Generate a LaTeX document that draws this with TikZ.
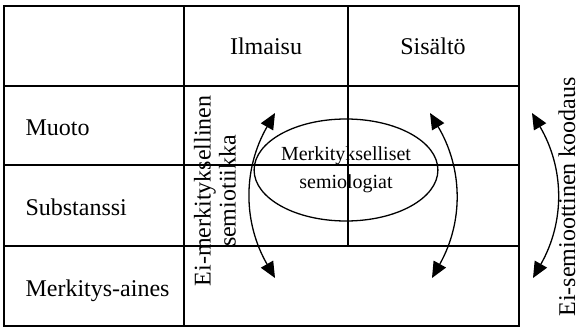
\documentclass[tikz,border=0pt]{standalone}
\usepackage{fontspec}
\setmainfont{Liberation Serif}
\usetikzlibrary{arrows.meta,shapes.geometric}
\begin{document}
\begin{tikzpicture}[x=1pt, y=1pt,
		lbl/.style={font=\fontsize{24}{25}\selectfont},
		arr/.style={<->, >={Triangle[length=16pt,width=14pt]}, line width=1.3pt}]
		\useasboundingbox (0,0) rectangle (580,327);
		\draw[line width=1.1pt] (4,1) rectangle (519,321);
		\draw[line width=1.1pt] (4,241) -- (519,241);
		\draw[line width=1.1pt] (4,162) -- (519,162);
		\draw[line width=1.1pt] (4,81) -- (519,81);
		\draw[line width=1.1pt] (184,1) -- (184,321);
		\draw[line width=1.1pt] (348,81) -- (348,321);
		\draw (266,272) node[lbl, anchor=base] (I) {Ilmaisu};
		\draw (433,272) node[lbl, anchor=base] (S) {Sisältö};
		\draw (22,191) node[lbl, anchor=base west] (M) {Muoto};
		\draw (22,112) node[lbl, anchor=base west] (Su) {Substanssi};
		\draw (22,31) node[lbl, anchor=base west] (MA) {Merkitys-aines};
		\draw (346,157) node[draw, ellipse, line width=1.3pt, inner sep=0pt,
			minimum width=144pt, minimum height=102pt, align=center,
			font=\fontsize{20}{28}\selectfont] (E) {Merkitykselliset\\semiologiat};
		\draw (215,136) node[lbl, rotate=90, align=center] (EM) {Ei-merkityksellinen\\semiotiikka};
		\draw (567,130) node[lbl, rotate=90, inner sep=0pt] (ES) {Ei-semioottinen koodaus};
		\coordinate (A1) at (275,49);
		\coordinate (A2) at (275,214);
		\coordinate (B1) at (432,49);
		\coordinate (B2) at (430,214);
		\coordinate (C1) at (533,49);
		\coordinate (C2) at (532,214);
		\draw[arr] (A1) to[bend left=30] (A2);
		\draw[arr] (B1) to[bend right=30] (B2);
		\draw[arr] (C1) to[bend right=30] (C2);
	\end{tikzpicture}
\end{document}
